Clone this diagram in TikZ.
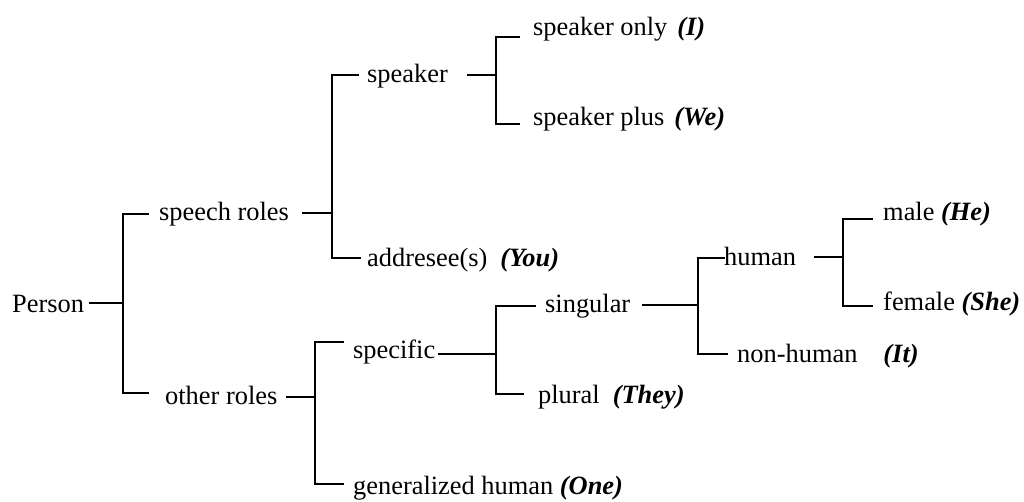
\documentclass[tikz,border=0pt]{standalone}
\usepackage{fontspec}
\setmainfont{Liberation Serif}
\newcommand{\pr}[1]{\textbf{\textit{#1}}}
\begin{document}
\begin{tikzpicture}[x=1pt,y=-1pt,
  lbl/.style={anchor=base west,inner sep=0pt,font=\fontsize{26.4}{30}\selectfont},
  br/.style={line width=2pt,line cap=rect}]
\useasboundingbox[fill=white] (0,0) rectangle (1024,501);
% labels
\node[lbl] (person)  at (12,312)  {Person};
\node[lbl] (speech)  at (159,220) {speech roles};
\node[lbl] (other)   at (165,404) {other roles};
\node[lbl] (speaker) at (367,82)  {speaker};
\node[lbl] (addr)    at (367,266) {addresee(s)\hspace{13pt}\pr{(You)}};
\node[lbl] (sonly)   at (533,35)  {speaker only\hspace{10pt}\pr{(I)}};
\node[lbl] (splus)   at (533,125) {speaker plus\hspace{10pt}\pr{(We)}};
\node[lbl] (spec)    at (353,358) {specific};
\node[lbl] (gen)     at (353,494) {generalized human \pr{(One)}};
\node[lbl] (sing)    at (545,312) {singular};
\node[lbl] (plural)  at (538,403) {plural\hspace{13pt}\pr{(They)}};
\node[lbl] (human)   at (724,265) {human};
\node[lbl] (nonh)    at (737,362) {non-human\hspace{26pt}\pr{(It)}};
\node[lbl] (male)    at (883,220) {male \pr{(He)}};
\node[lbl] (female)  at (883,310) {female \pr{(She)}};
% junction coordinates
\coordinate (jperson)  at (123,303);
\coordinate (jspeech)  at (332,213);
\coordinate (jspeaker) at (496,75);
\coordinate (jother)   at (315,397);
\coordinate (jspec)    at (496,354);
\coordinate (jsing)    at (698,305);
\coordinate (jhuman)   at (843,257);
% stems
\draw[br] (90,303) -- (jperson);
\draw[br] (303,213) -- (jspeech);
\draw[br] (468,75) -- (jspeaker);
\draw[br] (287,397) -- (jother);
\draw[br] (439,354) -- (jspec);
\draw[br] (643,305) -- (jsing);
\draw[br] (815,257) -- (jhuman);
% brackets
\draw[br] (148,214) -- (jperson |- 0,214) -- (jperson |- 0,393) -- (148,393);
\draw[br] (358,75) -- (jspeech |- 0,75) -- (jspeech |- 0,258) -- (360,258);
\draw[br] (519,37) -- (jspeaker |- 0,37) -- (jspeaker |- 0,124) -- (519,124);
\draw[br] (343,342) -- (jother |- 0,342) -- (jother |- 0,484) -- (343,484);
\draw[br] (535,306) -- (jspec |- 0,306) -- (jspec |- 0,394) -- (523,394);
\draw[br] (724,258) -- (jsing |- 0,258) -- (jsing |- 0,354) -- (727,354);
\draw[br] (872,219) -- (jhuman |- 0,219) -- (jhuman |- 0,306) -- (872,306);
\end{tikzpicture}
\end{document}
